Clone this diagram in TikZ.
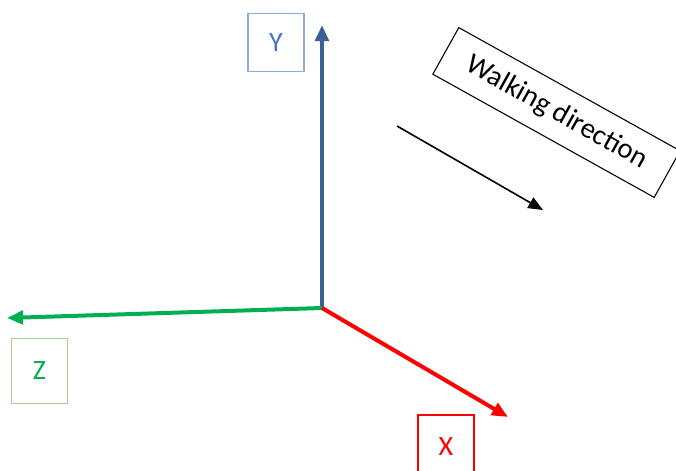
\documentclass[tikz,border=0pt]{standalone}
\usepackage{fontspec}
\setmainfont{Carlito}
\usetikzlibrary{arrows.meta}

\definecolor{yaxis}{RGB}{58,96,148}
\definecolor{ytext}{RGB}{68,114,196}
\definecolor{yframe}{RGB}{143,170,220}
\definecolor{zaxis}{RGB}{0,176,80}
\definecolor{zframe}{RGB}{169,209,142}
\definecolor{xaxis}{RGB}{255,0,0}

\tikzstyle{label} = [draw, text centered, minimum height = 44pt, minimum width = 42pt, line width = 0.8pt, font = \fontsize{21}{24}\selectfont]
\tikzstyle{axis} = [-{Triangle[length = 12pt, width = 10pt]}, line width = 3pt]

\begin{document}
\begin{tikzpicture}[x = 0.75pt, y = -0.75pt]
		\useasboundingbox (0, 0) rectangle (676, 471);
		\coordinate (0) at (322, 308);
		\coordinate (1) at (322, 25);
		\coordinate (2) at (7, 318);
		\coordinate (3) at (508, 417);
		\coordinate (4) at (397, 126);
		\coordinate (5) at (543, 210);

		\node [label, draw = yframe, text = ytext] at (276, 42.5) (6) {Y};
		\node [label, draw = zframe, text = zaxis, minimum height = 49pt] at (39.5, 371) (7) {Z};
		\node [label, draw = xaxis, text = xaxis, minimum height = 48pt] at (446, 447) (8) {X};
		\node [draw, line width = 0.8pt, rotate = -29.1, minimum width = 190pt, minimum height = 40pt, font = \fontsize{21.5}{24}\selectfont] at (556.5, 112.5) (9) {Walking direction};

		\draw [axis, yaxis] (0) -- (1);
		\draw [axis, zaxis] (0) -- (2);
		\draw [axis, xaxis] (0) -- (3);
		\draw [-{Triangle[length = 11pt, width = 9pt]}, line width = 1.2pt] (4) -- (5);
	\end{tikzpicture}
\end{document}
